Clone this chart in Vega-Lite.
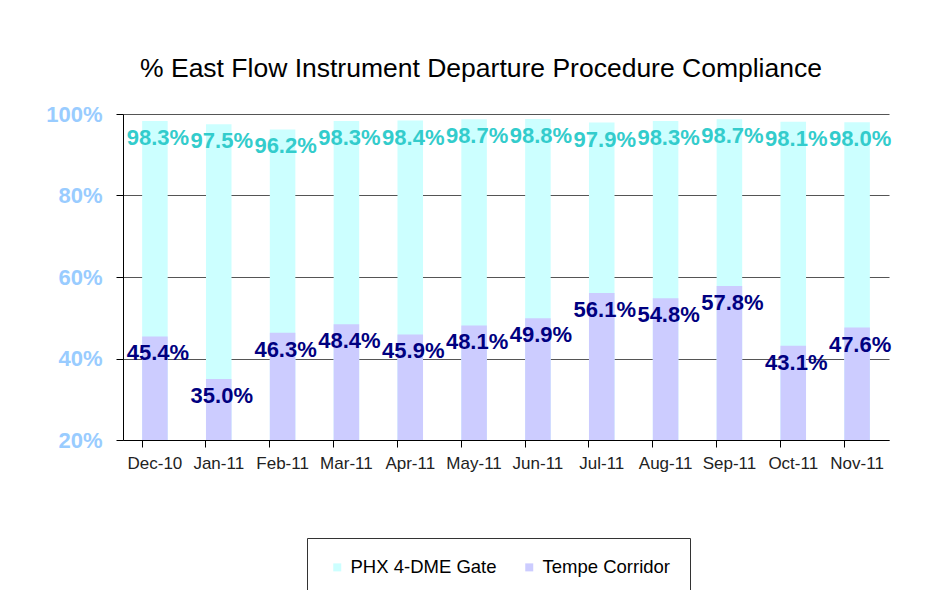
{
  "$schema": "https://vega.github.io/schema/vega-lite/v6.json",
  "width": 766,
  "height": 326,
  "autosize": "none",
  "padding": {"left": 123, "top": 114, "right": 56, "bottom": 150},
  "background": "white",
  "config": {"font": "Liberation Sans", "view": {"stroke": null}},
  "title": {
    "text": "% East Flow Instrument Departure Procedure Compliance",
    "fontSize": 26.5,
    "fontWeight": "normal",
    "color": "#000000",
    "anchor": "middle",
    "frame": "group",
    "dx": -25,
    "offset": 21
  },
  "data": {
    "values": [
      {"month": "Dec-10", "series": "PHX 4-DME Gate", "value": 0.983},
      {"month": "Jan-11", "series": "PHX 4-DME Gate", "value": 0.975},
      {"month": "Feb-11", "series": "PHX 4-DME Gate", "value": 0.962},
      {"month": "Mar-11", "series": "PHX 4-DME Gate", "value": 0.983},
      {"month": "Apr-11", "series": "PHX 4-DME Gate", "value": 0.984},
      {"month": "May-11", "series": "PHX 4-DME Gate", "value": 0.987},
      {"month": "Jun-11", "series": "PHX 4-DME Gate", "value": 0.988},
      {"month": "Jul-11", "series": "PHX 4-DME Gate", "value": 0.979},
      {"month": "Aug-11", "series": "PHX 4-DME Gate", "value": 0.983},
      {"month": "Sep-11", "series": "PHX 4-DME Gate", "value": 0.987},
      {"month": "Oct-11", "series": "PHX 4-DME Gate", "value": 0.981},
      {"month": "Nov-11", "series": "PHX 4-DME Gate", "value": 0.980},
      {"month": "Dec-10", "series": "Tempe Corridor", "value": 0.454},
      {"month": "Jan-11", "series": "Tempe Corridor", "value": 0.350},
      {"month": "Feb-11", "series": "Tempe Corridor", "value": 0.463},
      {"month": "Mar-11", "series": "Tempe Corridor", "value": 0.484},
      {"month": "Apr-11", "series": "Tempe Corridor", "value": 0.459},
      {"month": "May-11", "series": "Tempe Corridor", "value": 0.481},
      {"month": "Jun-11", "series": "Tempe Corridor", "value": 0.499},
      {"month": "Jul-11", "series": "Tempe Corridor", "value": 0.561},
      {"month": "Aug-11", "series": "Tempe Corridor", "value": 0.548},
      {"month": "Sep-11", "series": "Tempe Corridor", "value": 0.578},
      {"month": "Oct-11", "series": "Tempe Corridor", "value": 0.431},
      {"month": "Nov-11", "series": "Tempe Corridor", "value": 0.476}
    ]
  },
  "encoding": {
    "x": {
      "field": "month",
      "type": "nominal",
      "sort": null,
      "scale": {"paddingInner": 0.6, "paddingOuter": 0.3},
      "axis": {
        "title": null,
        "labelAngle": 0,
        "bandPosition": 0,
        "tickSize": 7,
        "tickColor": "#000000",
        "domainColor": "#000000",
        "labelFontSize": 17,
        "labelColor": "#222222",
        "labelPadding": 8,
        "grid": false
      }
    },
    "y": {
      "field": "value",
      "type": "quantitative",
      "scale": {"domain": [0.2, 1]},
      "axis": {
        "title": null,
        "format": ".0%",
        "values": [0.2, 0.4, 0.6, 0.8, 1.0],
        "labelColor": "#99CCFF",
        "labelFontSize": 22,
        "labelFontWeight": "bold",
        "labelPadding": 14,
        "tickSize": 7,
        "tickColor": "#000000",
        "domainColor": "#000000",
        "grid": true,
        "gridColor": "#555555",
        "gridOpacity": 1
      }
    }
  },
  "layer": [
    {
      "transform": [{"filter": "datum.series === 'PHX 4-DME Gate'"}],
      "mark": {"type": "bar"},
      "encoding": {
        "y2": {"datum": 0.2},
        "color": {
          "field": "series",
          "type": "nominal",
          "scale": {"domain": ["PHX 4-DME Gate", "Tempe Corridor"], "range": ["#CCFFFF", "#CCCCFF"]},
          "legend": {
            "title": null,
            "orient": "none",
            "direction": "horizontal",
            "legendX": 184,
            "legendY": 424,
            "strokeColor": "#333333",
            "padding": 20,
            "symbolType": "square",
            "symbolSize": 64,
            "symbolStrokeWidth": 0,
            "symbolOffset": 1,
            "labelFontSize": 18.5,
            "labelColor": "#000000",
            "labelOffset": 4,
            "columnPadding": 22
          }
        }
      }
    },
    {
      "transform": [{"filter": "datum.series === 'Tempe Corridor'"}],
      "mark": {"type": "bar"},
      "encoding": {
        "y2": {"datum": 0.2},
        "color": {"field": "series", "type": "nominal"}
      }
    },
    {
      "mark": {"type": "text", "fontSize": 22, "fontWeight": "bold", "baseline": "middle", "dy": 17, "dx": 3},
      "encoding": {
        "text": {"field": "value", "type": "quantitative", "format": ".1%"},
        "color": {
          "condition": {"test": "datum.series === 'PHX 4-DME Gate'", "value": "#33CCCC"},
          "value": "#000080"
        }
      }
    }
  ]
}
